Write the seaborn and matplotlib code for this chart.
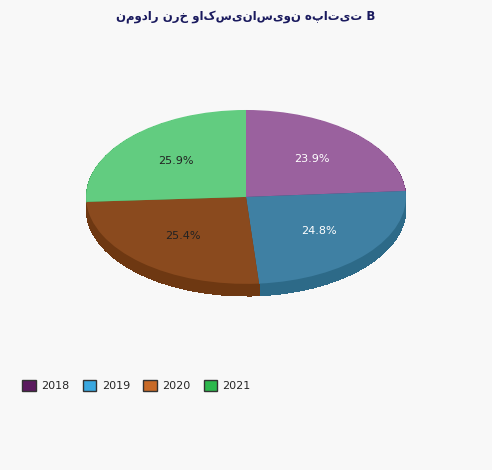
import matplotlib
matplotlib.use("Agg")
import matplotlib.pyplot as plt
import seaborn as sns
from matplotlib.patches import Patch

years = ["2018", "2019", "2020", "2021"]
values = [23.9, 24.8, 25.4, 25.9]
top_colors = ["#9a619e", "#3f80a3", "#8a4a1e", "#62cc80"]
side_colors = ["#6a3470", "#2d6a88", "#6e3812", "#3e9e58"]
legend_colors = ["#5a1a5e", "#3aa8e0", "#c86a28", "#2db84d"]
label_colors = ["white", "white", "#222222", "#222222"]

sns.set_theme(style="white")
plt.rcParams['font.family'] = ['DejaVu Sans']
fig = plt.figure(figsize=(4.92, 4.70), dpi=100, facecolor="#f8f8f8")
ax = fig.add_axes([0.175, 0.359, 0.65, 0.407])
ax.set_facecolor("#f8f8f8")

depth = 0.14
for k in range(12, 0, -1):
    ax.pie(values, colors=side_colors, startangle=90, counterclock=False,
           center=(0, -depth * k / 12), radius=1, frame=True,
           wedgeprops={"linewidth": 0, "antialiased": False})
w, t, at = ax.pie(values, colors=top_colors, startangle=90, counterclock=False,
                  autopct="%.1f%%", pctdistance=0.6, radius=1, frame=True,
                  textprops={"fontsize": 8}, wedgeprops={"linewidth": 0})
for a, c in zip(at, label_colors):
    a.set_color(c)
ax.set_aspect("auto")
ax.set_xlim(-1, 1)
ax.set_ylim(-1.2, 1)
ax.axis("off")

fig.text(0.5, 0.965, "نمودار نرخ واکسیناسیون هپاتیت B", ha="center", va="center",
         fontsize=8.5, color="#1a1a5e", fontweight="bold")
handles = [Patch(facecolor=c, edgecolor="#333333", label=y) for y, c in zip(years, legend_colors)]
fig.legend(handles=handles, loc="center left", bbox_to_anchor=(0.025, 0.18), ncol=4,
           frameon=False, fontsize=8, handlelength=1.2, handleheight=1.2, columnspacing=1.2,
           handletextpad=0.5)
fig.savefig("out.png", dpi=100, facecolor=fig.get_facecolor())
